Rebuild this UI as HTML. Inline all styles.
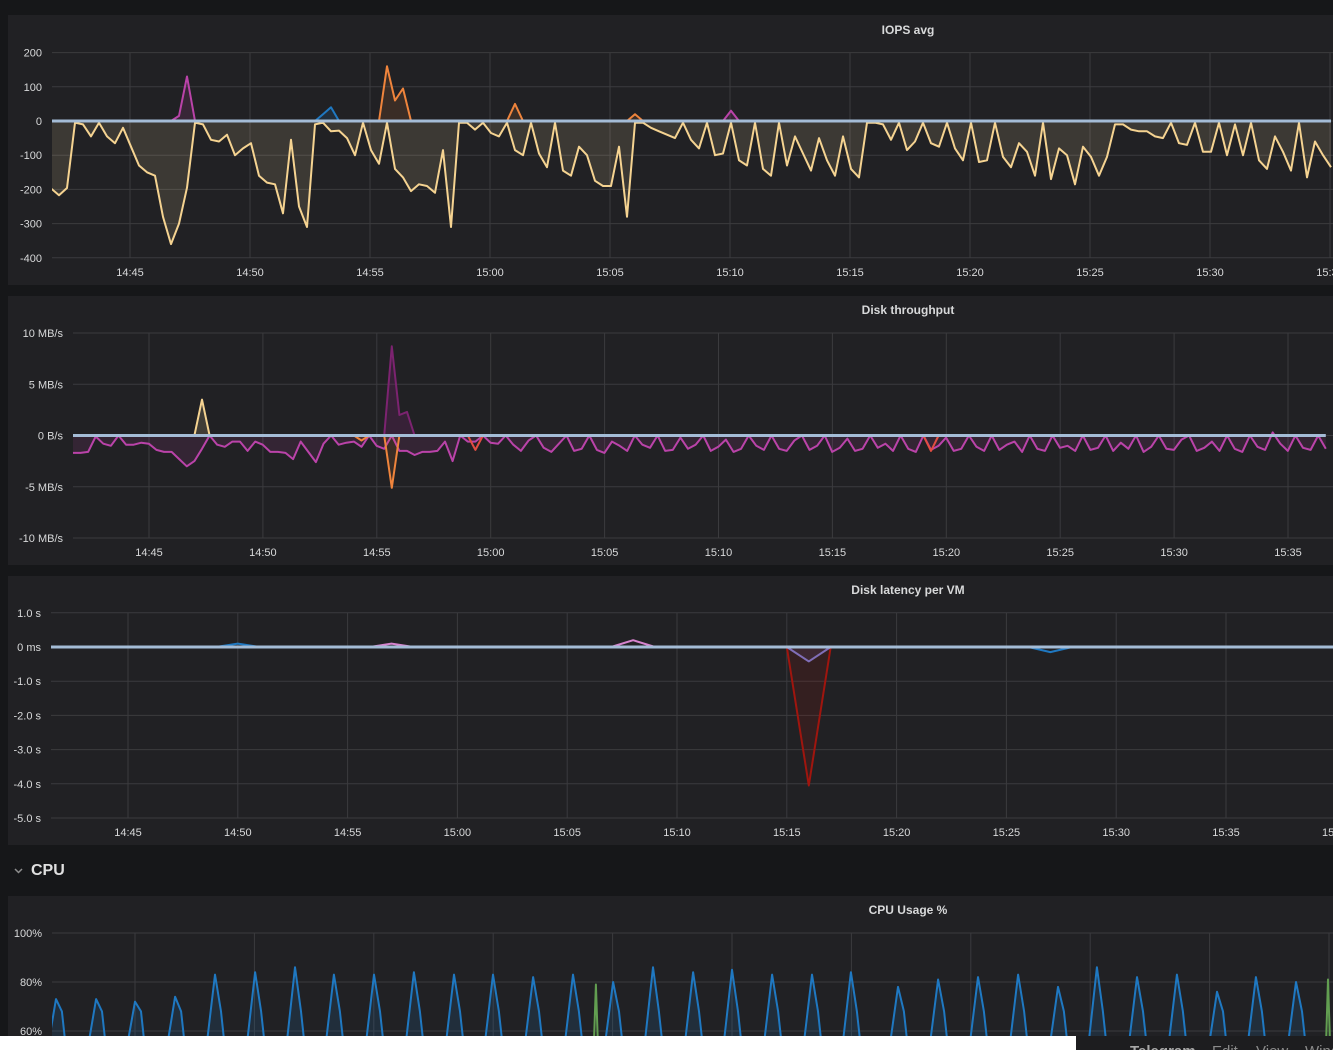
<!DOCTYPE html>
<html><head><meta charset="utf-8">
<style>
html,body{margin:0;padding:0;background:#161719;width:1333px;height:1050px;overflow:hidden;font-family:"Liberation Sans",sans-serif}
svg{display:block;overflow:hidden}
svg text{font-family:"Liberation Sans",sans-serif}
</style></head>
<body>
<svg id="dash" width="1333" height="1050" xmlns="http://www.w3.org/2000/svg">
<rect x="0" y="0" width="1333" height="1050" fill="#161719"/>
<rect x="8" y="15" width="1325" height="270" fill="#212124"/>
<rect x="8" y="296" width="1325" height="269" fill="#212124"/>
<rect x="8" y="576" width="1325" height="269" fill="#212124"/>
<rect x="8" y="896" width="1325" height="154" fill="#212124"/>
<text x="908" y="34" text-anchor="middle" fill="#d8d9da" font-size="12" font-weight="bold">IOPS avg</text>
<text x="908" y="314" text-anchor="middle" fill="#d8d9da" font-size="12" font-weight="bold">Disk throughput</text>
<text x="908" y="594" text-anchor="middle" fill="#d8d9da" font-size="12" font-weight="bold">Disk latency per VM</text>
<text x="908" y="914" text-anchor="middle" fill="#d8d9da" font-size="12" font-weight="bold">CPU Usage %</text>
<path d="M15 869 l3.5 3.5 l3.5 -3.5" stroke="#8e8e8e" stroke-width="1.5" fill="none"/>
<text x="31" y="875" fill="#e0e0e0" font-size="16" font-weight="bold">CPU</text>
<g id="layer"></g>
<rect x="0" y="1036" width="1076" height="14" fill="#ffffff"/>
<svg x="1076" y="1036" width="257" height="14">
<rect x="0" y="0" width="257" height="14" fill="#1d1d1f"/>
<text x="54" y="20" fill="#a8a8a8" font-size="15" font-weight="bold">Telegram</text>
<text x="136" y="20" fill="#8a8a8a" font-size="15">Edit</text>
<text x="180" y="20" fill="#8a8a8a" font-size="15">View</text>
<text x="229" y="20" fill="#8a8a8a" font-size="15">Window</text>
</svg>
</svg>
<script>
// ---------- data ----------
const timeTickMinutes=[5,10,15,20,25,30,35,40,45,50,55,60];
const timeTickLabels=["14:45","14:50","14:55","15:00","15:05","15:10","15:15","15:20","15:25","15:30","15:35","15:40"];
const iopsStart=1.708;
const iopsStep=1/3;
const iopsTicks=[200,100,0,-100,-200,-300,-400];
const iopsYellow=[-197,-217,-196,-5,-10,-45,-5,-45,-65,-20,-75,-130,-150,-160,-280,-360,-300,-195,-5,-10,-55,-60,-40,-100,-80,-65,-160,-180,-185,-270,-55,-250,-310,-10,-5,-30,-28,-50,-100,-5,-85,-125,-5,-140,-165,-205,-185,-190,-210,-85,-310,-5,-5,-25,-5,-35,-45,-5,-85,-100,-5,-95,-135,-5,-145,-160,-75,-100,-175,-190,-190,-75,-280,-5,-5,-20,-30,-40,-50,-5,-55,-80,-5,-100,-95,-5,-115,-130,-5,-140,-160,-5,-130,-45,-95,-145,-50,-115,-160,-45,-140,-165,-5,-5,-10,-55,-5,-85,-60,-5,-65,-75,-5,-80,-115,-5,-120,-115,-5,-105,-135,-65,-90,-160,-5,-170,-80,-100,-185,-75,-105,-160,-105,-10,-10,-25,-30,-30,-45,-50,-5,-65,-70,-5,-90,-90,-5,-100,-10,-100,-5,-115,-140,-45,-90,-145,-5,-165,-60,-100,-135];
const iopsMagentaIdx=[15,16,17,18,84,85,86];
const iopsMagentaVal=[0,15,130,0,0,30,0];
const iopsBlueIdx=[33,34,35,36];
const iopsBlueVal=[0,20,40,0];
const iopsOrangeIdx=[41,42,43,44,45,57,58,59,72,73,74];
const iopsOrangeVal=[0,160,60,95,0,0,50,0,0,20,0];
const tpStart=1.66;
const tpStep=1/3;
const tpTicks=[10,5,0,-5,-10];
const tpTickLabels=["10 MB/s","5 MB/s","0 B/s","-5 MB/s","-10 MB/s"];
const tpPink=[-1.7,-1.7,-1.6,-0.1,-0.8,-1.0,0,-0.9,-0.9,-0.7,-0.8,-1.4,-1.6,-1.6,-2.3,-3.0,-2.5,-1.3,0,-0.9,-1.1,-0.6,-0.6,-1.5,-0.6,-0.9,-1.6,-1.6,-1.7,-2.3,-0.6,-1.6,-2.6,-0.8,0,-0.9,-0.7,-0.6,-1.1,0,-1.0,-1.3,0,-1.5,-1.5,-1.9,-1.6,-1.6,-1.5,-0.6,-2.5,0,-0.6,-0.6,0,-0.7,-0.8,0,-0.9,-1.5,-0.5,0,-1.2,-1.6,-0.8,0,-1.5,-1.3,0,-1.4,-1.7,-0.6,-1.0,-1.5,0,-0.9,-1.2,0,-1.5,-1.4,-0.2,-1.3,-0.9,0,-1.5,-1.1,-0.4,-1.6,-1.3,0,-1.0,-1.4,0,-1.3,-1.5,-0.5,0,-1.4,-1.0,0,-1.6,-1.2,-0.3,-1.5,-1.3,0,-1.2,-0.8,-1.5,0,-1.3,-1.6,0,-1.4,-1.0,-0.2,-1.5,-1.3,0,-1.1,-1.5,0,-1.4,-0.9,-0.6,-1.6,0,-1.3,-1.5,0,-1.2,-1.0,-1.5,0,-1.4,-1.2,0,-1.5,-0.7,-1.3,0,-1.6,-1.1,0,-1.3,-1.4,-0.4,0,-1.5,-1.2,-0.6,-1.5,0,-1.3,-1.6,0,-1.1,-1.4,0.3,-0.8,-1.5,0,-1.2,-1.4,0,-1.3];
const tpYellowIdx=[16,17,18];
const tpYellowVal=[0,3.5,0];
const tpPurpleIdx=[41,42,43,44,45];
const tpPurpleVal=[0,8.7,2.0,2.3,0];
const tpOrangeIdx=[37,38,39,41,42,43];
const tpOrangeVal=[0,-0.5,0,0,-5.1,0];
const tpRedIdx=[52,53,54,112,113,114];
const tpRedVal=[0,-1.4,0,0,-1.5,0];
const latTicks=[1,0,-1,-2,-3,-4,-5];
const latTickLabels=["1.0 s","0 ms","-1.0 s","-2.0 s","-3.0 s","-4.0 s","-5.0 s"];
const latRedT=[35,36,37];
const latRedVal=[0,-4.05,0];
const latPurpleT=[35,36,37];
const latPurpleVal=[0,-0.42,0];
const latBlueT=[9,10,11,46,47,48];
const latBlueVal=[0,0.1,0,0,-0.15,0];
const latPinkT=[16,17,18,27,28,29];
const latPinkVal=[0,0.1,0,0,0.2,0];
const cpuTicks=[100,80,60];
const cpuTickLabels=["100%","80%","60%"];
const cpuPeakT=[1.69,3.37,5.0,6.68,8.35,10.03,11.70,13.33,15.01,16.68,18.36,19.99,21.67,23.34,25.02,26.69,28.37,30.0,31.68,33.35,34.98,36.95,38.63,40.30,41.98,43.65,45.28,46.96,48.63,50.31,51.94,53.62];
const cpuPeakVal=[73,73,72,74,83,84,86,83,83,84,83,83,82,83,80,86,84,85,83,83,84,78,81,82,83,78,86,82,83,76,82,80];
const cpuGreenT=[24.3,54.96];
const cpuGreenVal=[79,81];

// ---------- drawing ----------
const NS="http://www.w3.org/2000/svg";
const layer=document.getElementById('layer');
function mk(tag,attrs,parent){const e=document.createElementNS(NS,tag);for(const k in attrs)e.setAttribute(k,attrs[k]);(parent||layer).appendChild(e);return e;}

function panel(p){
  const g=mk('g',{});
  
  
  const clipId=p.name+'-clip';
  const cp=mk('clipPath',{id:clipId},g);
  mk('rect',{x:p.x0,y:p.clipTop,width:1333-p.x0,height:p.clipBot-p.clipTop},cp);
  p.yTicks.forEach((v,i)=>{
    const y=p.y(v);
    const ln=mk('line',{x1:p.x0,x2:1333,y1:y,y2:y,stroke:'#3b3b3e','stroke-width':1},g);
    
    
    const t=mk('text',{x:p.x0-10,y:y+4,'text-anchor':'end',fill:'#d8d9da','font-size':11},g);
    
    
    t.textContent=p.yLabels[i];
  });
  timeTickMinutes.forEach((m,i)=>{
    const x=p.x(m);
    if(x>1345)return;
    const ln=mk('line',{x1:x,x2:x,y1:p.gridTop,y2:p.gridBot,stroke:'#3b3b3e','stroke-width':1},g);
    
    
    if(p.showX){
      const t=mk('text',{x:x,y:p.gridBot+18,'text-anchor':'middle',fill:'#d8d9da','font-size':11},g);
      
      
      t.textContent=timeTickLabels[i];
    }
  });
  const plot=mk('g',{'clip-path':'url(#'+clipId+')'},g);
  
  
  return plot;
}
function series(plot,pts,p,color,fill,width,name){
  const d=pts.map((q,i)=>(i?'L':'M')+p.x(q[0]).toFixed(1)+' '+p.y(q[1]).toFixed(1)).join(' ');
  if(fill){
    const z=p.y(0);
    const a=mk('path',{d:d+' L'+p.x(pts[pts.length-1][0]).toFixed(1)+' '+z+' L'+p.x(pts[0][0]).toFixed(1)+' '+z+' Z',fill:fill,stroke:'none'},plot);
    
    
  }
  const l=mk('path',{d:d,fill:'none',stroke:color,'stroke-width':width||2,'stroke-linejoin':'round'},plot);
  
  
}
function groups(idx,val,toT){
  const out=[];let cur=[];
  idx.forEach((k,i)=>{if(cur.length&&k!==idx[i-1]+1&&k!==idx[i-1]){out.push(cur);cur=[];}cur.push([toT(k),val[i]]);});
  if(cur.length)out.push(cur);return out;
}

const P1={name:'iops',x0:52,gridTop:53,gridBot:258,clipTop:40,clipBot:259,showX:true,
  x:t=>130+(t-5)*24.0,y:v=>121-v*0.342,yTicks:iopsTicks,yLabels:iopsTicks.map(String)};
const pl1=panel(P1);
const iT=k=>iopsStart+k*iopsStep;
series(pl1,iopsYellow.map((v,i)=>[iT(i),v]),P1,'#f5d391','rgba(250,222,160,0.13)',2,'iops-yellow');
groups(iopsMagentaIdx,iopsMagentaVal,iT).forEach(g=>series(pl1,g,P1,'#ba43a9','rgba(186,67,169,0.15)',2,'iops-magenta'));
groups(iopsBlueIdx,iopsBlueVal,iT).forEach(g=>series(pl1,g,P1,'#1f78c1','rgba(31,120,193,0.15)',2,'iops-blue'));
groups(iopsOrangeIdx,iopsOrangeVal,iT).forEach(g=>series(pl1,g,P1,'#ef843c','rgba(239,132,60,0.12)',2,'iops-orange'));
series(pl1,iopsYellow.map((v,i)=>[iT(i),0]),P1,'#a4bcd6',null,3,'iops-baseline');

const P2={name:'throughput',x0:73,gridTop:333,gridBot:538,clipTop:320,clipBot:539,showX:true,
  x:t=>149+(t-5)*22.78,y:v=>435.5-v*10.25,yTicks:tpTicks,yLabels:tpTickLabels};
const pl2=panel(P2);
const tT=k=>tpStart+k*tpStep;
series(pl2,tpPink.map((v,i)=>[tT(i),v]),P2,'#ba43a9','rgba(186,67,169,0.12)',2,'throughput-pink');
groups(tpYellowIdx,tpYellowVal,tT).forEach(g=>series(pl2,g,P2,'#f5d391','rgba(250,222,160,0.15)',2,'throughput-yellow'));
groups(tpPurpleIdx,tpPurpleVal,tT).forEach(g=>series(pl2,g,P2,'#7c2370','rgba(124,35,112,0.25)',2,'throughput-purple'));
groups(tpOrangeIdx,tpOrangeVal,tT).forEach(g=>series(pl2,g,P2,'#ef843c','rgba(239,132,60,0.12)',2,'throughput-orange'));
groups(tpRedIdx,tpRedVal,tT).forEach(g=>series(pl2,g,P2,'#e24d42',null,2,'throughput-red'));
series(pl2,tpPink.map((v,i)=>[tT(i),0]),P2,'#a4bcd6',null,3,'throughput-baseline');

const P3={name:'latency',x0:51,gridTop:613,gridBot:818,clipTop:600,clipBot:819,showX:true,
  x:t=>128+(t-5)*21.96,y:v=>647-v*34.2,yTicks:latTicks,yLabels:latTickLabels};
const pl3=panel(P3);
const idT=k=>k;
groups(latRedT,latRedVal,idT).forEach(g=>series(pl3,g,P3,'#a0150e','rgba(160,21,14,0.15)',2,'latency-red'));
groups(latPurpleT,latPurpleVal,idT).forEach(g=>series(pl3,g,P3,'#806eb7','rgba(128,110,183,0.12)',2,'latency-purple'));
groups(latBlueT,latBlueVal,idT).forEach(g=>series(pl3,g,P3,'#1f78c1',null,2,'latency-blue'));
groups(latPinkT,latPinkVal,idT).forEach(g=>series(pl3,g,P3,'#d683ce',null,2,'latency-pink'));
series(pl3,[[0,0],[62,0]],P3,'#a4bcd6',null,3,'latency-baseline');

const P4={name:'cpu',x0:52,gridTop:933,gridBot:1036,clipTop:920,clipBot:1036,showX:false,
  x:t=>135+(t-5)*23.88,y:v=>933+(100-v)*2.45,yTicks:cpuTicks,yLabels:cpuTickLabels};
const pl4=panel(P4);
cpuPeakT.forEach((t,i)=>{
  series(pl4,[[t-0.4,50],[t,cpuPeakVal[i]],[t+0.25,68],[t+0.45,50]],P4,'#1f78c1','rgba(31,120,193,0.15)',2,'cpu-blue-spike');
});
cpuGreenT.forEach((t,i)=>{
  series(pl4,[[t-0.1,50],[t,cpuGreenVal[i]],[t+0.1,50]],P4,'#629e51',null,2,'cpu-green-spike');
});
</script>
</body></html>
